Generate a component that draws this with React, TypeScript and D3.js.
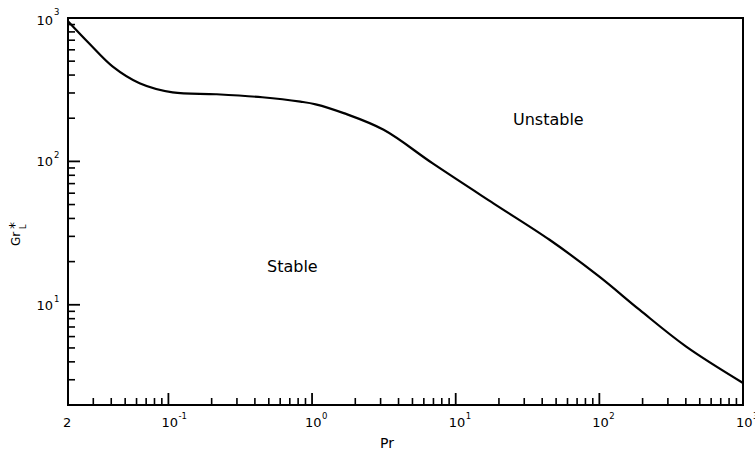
import React from "react";
import * as d3 from "d3";

const prValues = [0.02, 0.028, 0.041, 0.063, 0.107, 0.214, 0.45, 0.83, 1.06, 1.66, 3.15, 7.0, 18.3, 45, 100, 191, 400, 1000];
const grValues = [950, 667, 458, 351, 303, 294, 280, 261, 250, 217, 166, 96, 51, 28.4, 15.7, 9.2, 5.13, 2.85];

const xMajorTicks = [0.1, 1, 10, 100];
const xMajorExps = ["-1", "0", "1", "2"];
const yMajorTicks = [10, 100, 1000];
const yMajorExps = ["1", "2", "3"];

const W = 755;
const H = 451;
const left = 68;
const right = 743;
const top = 18;
const bottom = 405;

const font = "'DejaVu Sans', sans-serif";

export default function App() {
  const x = d3.scaleLog().domain([0.02, 1000]).range([left, right]);
  const y = d3.scaleLog().domain([2, 1000]).range([bottom, top]);

  const pts: [number, number][] = prValues.map((p, i) => [x(p), y(grValues[i])]);
  const path = d3.line().curve(d3.curveCatmullRom.alpha(0.5))(pts) || "";

  const xMinor: number[] = [];
  for (const dec of [0.01, 0.1, 1, 10, 100]) {
    for (let k = 2; k <= 9; k++) {
      const v = dec * k;
      if (v > 0.0200001 && v < 1000) xMinor.push(v);
    }
  }
  const yMinor: number[] = [];
  for (const dec of [1, 10, 100]) {
    for (let k = 2; k <= 9; k++) {
      const v = dec * k;
      if (v > 2.00001 && v < 1000) yMinor.push(v);
    }
  }

  return (
    <svg
      width={W}
      height={H}
      style={{ position: "absolute", left: 0, top: 0, background: "#fff" }}
      fontFamily={font}
    >
      <rect x={0} y={0} width={W} height={H} fill="#fff" />
      <path
        d={`M${left},${top}H${right}V${bottom}H${left}Z`}
        fill="none"
        stroke="#000"
        strokeWidth={2}
      />
      {xMinor.map((v) => (
        <line key={"xm" + v} x1={x(v)} x2={x(v)} y1={bottom} y2={bottom - 7} stroke="#000" strokeWidth={1.6} />
      ))}
      {xMajorTicks.map((v) => (
        <line key={"xM" + v} x1={x(v)} x2={x(v)} y1={bottom} y2={bottom - 12} stroke="#000" strokeWidth={1.8} />
      ))}
      {yMinor.map((v) => (
        <line key={"ym" + v} x1={left} x2={left + 7} y1={y(v)} y2={y(v)} stroke="#000" strokeWidth={1.6} />
      ))}
      {yMajorTicks.map((v) => (
        <line key={"yM" + v} x1={left} x2={left + 12} y1={y(v)} y2={y(v)} stroke="#000" strokeWidth={1.8} />
      ))}
      <text x={63} y={427} fontSize={13} fill="#000">2</text>
      {xMajorTicks.concat([1000]).map((v, i) => {
        const exp = i < xMajorExps.length ? xMajorExps[i] : "3";
        const tx = x(v);
        return (
          <g key={"xl" + v}>
            <text x={tx - 7} y={427} fontSize={13} fill="#000">10</text>
            <text x={tx + 10} y={419} fontSize={8.5} fill="#000">{exp}</text>
          </g>
        );
      })}
      {yMajorTicks.map((v, i) => {
        const ty = y(v);
        return (
          <g key={"yl" + v}>
            <text x={53} y={ty + 5 + (v === 1000 ? 2 : 0)} fontSize={13} fill="#000" textAnchor="end">10</text>
            <text x={54} y={ty - 3} fontSize={8.5} fill="#000">{yMajorExps[i]}</text>
          </g>
        );
      })}
      <path d={path} fill="none" stroke="#000" strokeWidth={2.2} strokeLinejoin="round" />
      <text x={513} y={125} fontSize={16} fill="#000">Unstable</text>
      <text x={267} y={272} fontSize={16} fill="#000">Stable</text>
      <text x={380} y={448} fontSize={14} fill="#000">Pr</text>
      <g transform="translate(20,246) rotate(-90)">
        <text x={0} y={0} fontSize={12} fill="#000">Gr</text>
        <text x={17} y={-1} fontSize={14} fill="#000">*</text>
        <text x={17} y={6} fontSize={8} fill="#000">L</text>
      </g>
    </svg>
  );
}
